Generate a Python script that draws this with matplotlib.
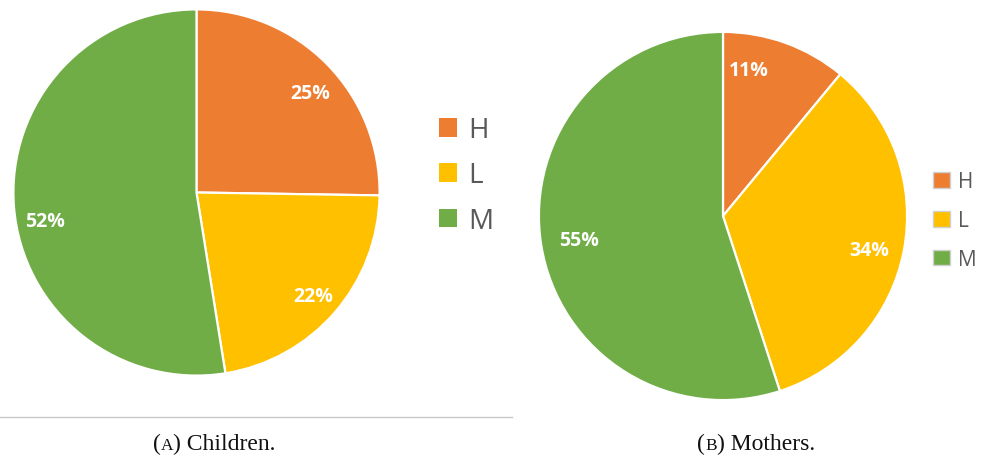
import matplotlib

matplotlib.use("Agg")
import matplotlib.pyplot as plt
from matplotlib.lines import Line2D

# Shares per group (percent), same order as the legend
categories = ["H", "L", "M"]
children = [25, 22, 52]
mothers = [11, 34, 55]
captions = [("A", " Children."), ("B", " Mothers.")]

COLORS = ["#ED7D31", "#FFC000", "#70AD47"]
W, H = 981, 456
DPI = 100


def px_axes(fig, cx, cy, r):
    """Square axes centred at pixel (cx, cy) measured from the top-left."""
    return fig.add_axes([(cx - r) / W, (H - cy - r) / H, 2 * r / W, 2 * r / H])


def draw_pie(ax, values, nudges):
    total = sum(values)
    wedges, _, autotexts = ax.pie(
        values,
        colors=COLORS,
        startangle=90,
        counterclock=False,
        autopct=lambda p: f"{p * total / 100:.0f}%",
        pctdistance=0.83,
        wedgeprops={"edgecolor": "white", "linewidth": 1.6},
        textprops={"color": "white", "fontsize": 14, "fontweight": "bold",
                   "family": "Open Sans"},
    )
    # small hand nudges of the percentage labels (in radius units)
    for t, (dx, dy) in zip(autotexts, nudges):
        x, y = t.get_position()
        t.set_position((x + dx, y + dy))
    ax.set_xlim(-1.005, 1.005)
    ax.set_ylim(-1.005, 1.005)
    ax.set_aspect("equal")
    ax.axis("off")
    return wedges


fig = plt.figure(figsize=(W / DPI, H / DPI), dpi=DPI)

ax1 = px_axes(fig, 196.5, 193.5, 184)
w1 = draw_pie(ax1, children, [(0.03, -0.04), (0.01, -0.02), (0.0, -0.09)])
ax2 = px_axes(fig, 723, 217, 185)
w2 = draw_pie(ax2, mothers, [(-0.14, 0.01), (-0.02, -0.03), (0.04, 0.0)])

# Pie (A) legend, larger type
leg1 = fig.legend(
    w1, categories, loc="upper left",
    bbox_to_anchor=(428 / W, 1 - 106 / H),
    frameon=False, handlelength=0.65, handleheight=0.65,
    handletextpad=0.4, labelspacing=0.62, borderaxespad=0,
    prop={"family": "Open Sans", "size": 20},
)
for t in leg1.get_texts():
    t.set_color("#595959")
for h in leg1.legend_handles:
    h.set_edgecolor("none")

# Pie (B) legend, smaller type with outlined swatches
leg2 = fig.legend(
    w2, categories, loc="upper left",
    bbox_to_anchor=(925 / W, 1 - 164 / H),
    frameon=False, handlelength=0.8, handleheight=0.8,
    handletextpad=0.4, labelspacing=0.85, borderaxespad=0,
    prop={"family": "Open Sans", "size": 15},
)
for t in leg2.get_texts():
    t.set_color("#595959")
for h in leg2.legend_handles:
    h.set_edgecolor("#d0d0d0")
    h.set_linewidth(1.0)

# Rule under the first panel
fig.add_artist(Line2D([0, 512 / W], [1 - 418 / H] * 2, color="#c8c8c8",
                      lw=1.0, transform=fig.transFigure))

# Sub-captions with small-caps letters
fig.canvas.draw()
renderer = fig.canvas.get_renderer()
serif = "Liberation Serif"
for (letter, rest), cx in zip(captions, [214, 756]):
    parts = [("(", 17), (letter, 12.5), (")" + rest, 17)]
    widths = []
    for s, size in parts:
        t = fig.text(0, 0, s, fontsize=size, family=serif)
        widths.append(t.get_window_extent(renderer).width)
        t.remove()
    x = cx - sum(widths) / 2
    for (s, size), wpx in zip(parts, widths):
        fig.text(x / W, 1 - 450 / H, s, fontsize=size, family=serif,
                 color="#111111", ha="left", va="baseline")
        x += wpx

fig.savefig("out.png", dpi=DPI)
